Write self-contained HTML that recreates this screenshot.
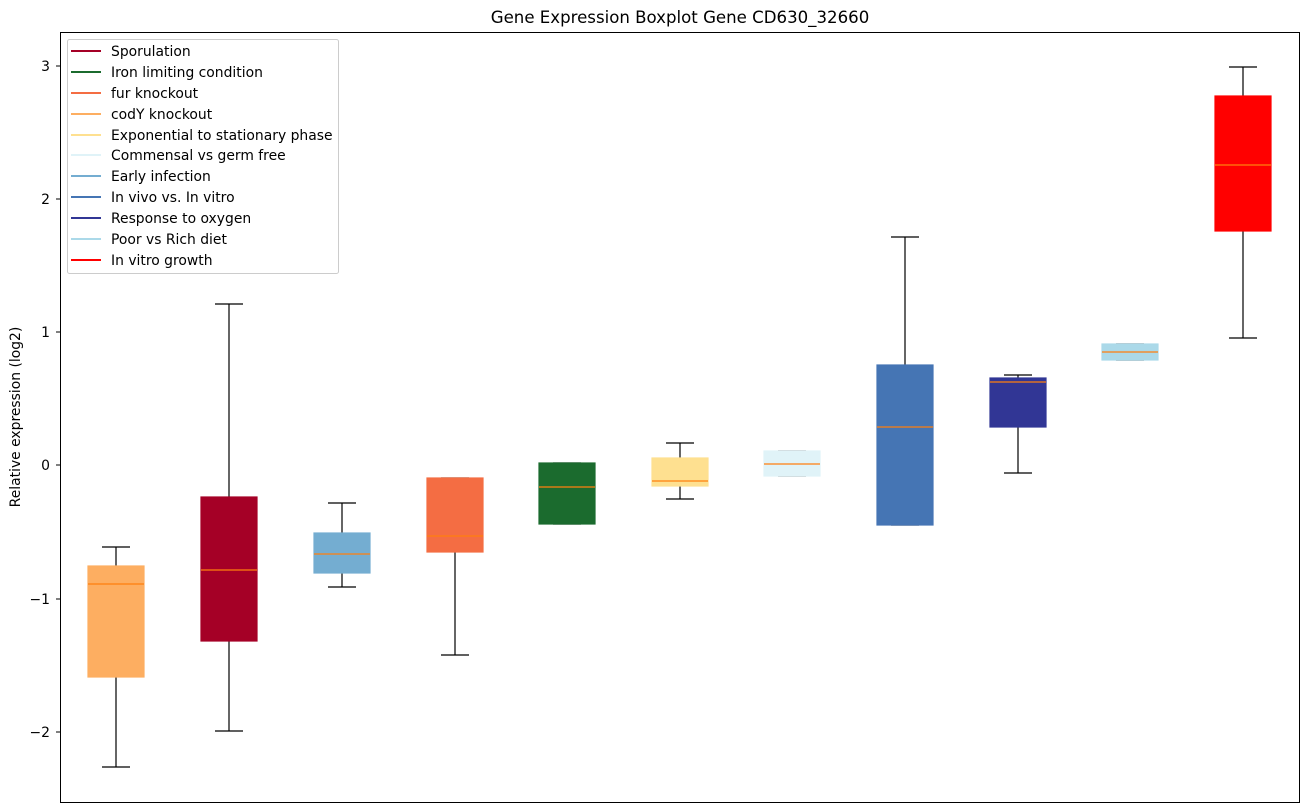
<!DOCTYPE html>
<html><head><meta charset="utf-8"><style>body{margin:0;background:#fff}svg{display:block}text{font-family:"DejaVu Sans","Liberation Sans",sans-serif;fill:#000}</style></head><body>
<svg width="1309" height="812" xmlns="http://www.w3.org/2000/svg">
<text x="680" y="23" font-size="16.6" text-anchor="middle">Gene Expression Boxplot Gene CD630_32660</text>
<rect x="60.5" y="32.5" width="1239" height="770" fill="none" stroke="#000"/>
<g font-size="13.9" text-anchor="end">
<line x1="56" x2="60" y1="66" y2="66" stroke="#000"/><text x="50" y="71">3</text>
<line x1="56" x2="60" y1="199" y2="199" stroke="#000"/><text x="50" y="204">2</text>
<line x1="56" x2="60" y1="332" y2="332" stroke="#000"/><text x="50" y="337">1</text>
<line x1="56" x2="60" y1="465" y2="465" stroke="#000"/><text x="50" y="470">0</text>
<line x1="56" x2="60" y1="599" y2="599" stroke="#000"/><text x="50" y="604">−1</text>
<line x1="56" x2="60" y1="732" y2="732" stroke="#000"/><text x="50" y="737">−2</text>
</g>
<text transform="translate(20,417) rotate(-90)" font-size="13.9" text-anchor="middle">Relative expression (log2)</text>
<g stroke="#000" stroke-width="1.2">
<line x1="116" x2="116" y1="547" y2="767"/><line x1="102" x2="130" y1="547" y2="547"/><line x1="102" x2="130" y1="767" y2="767"/>
<rect x="88" y="566" width="56" height="111" fill="#fdae61" stroke="#fdae61"/>
<line x1="229" x2="229" y1="304" y2="731"/><line x1="215" x2="243" y1="304" y2="304"/><line x1="215" x2="243" y1="731" y2="731"/>
<rect x="201" y="497" width="56" height="144" fill="#a50026" stroke="#a50026"/>
<line x1="342" x2="342" y1="503" y2="587"/><line x1="328" x2="356" y1="503" y2="503"/><line x1="328" x2="356" y1="587" y2="587"/>
<rect x="314" y="533" width="56" height="40" fill="#74add1" stroke="#74add1"/>
<line x1="455" x2="455" y1="478" y2="655"/><line x1="441" x2="469" y1="478" y2="478"/><line x1="441" x2="469" y1="655" y2="655"/>
<rect x="427" y="478" width="56" height="74" fill="#f46d43" stroke="#f46d43"/>
<line x1="553" x2="581" y1="463" y2="463"/><line x1="553" x2="581" y1="524" y2="524"/>
<rect x="539" y="463" width="56" height="61" fill="#1b6b2e" stroke="#1b6b2e"/>
<line x1="680" x2="680" y1="443" y2="499"/><line x1="666" x2="694" y1="443" y2="443"/><line x1="666" x2="694" y1="499" y2="499"/>
<rect x="652" y="458" width="56" height="28" fill="#fee090" stroke="#fee090"/>
<line x1="778" x2="806" y1="451" y2="451"/><line x1="778" x2="806" y1="476" y2="476"/>
<rect x="764" y="451" width="56" height="25" fill="#e0f3f8" stroke="#e0f3f8"/>
<line x1="905" x2="905" y1="237" y2="525"/><line x1="891" x2="919" y1="237" y2="237"/><line x1="891" x2="919" y1="525" y2="525"/>
<rect x="877" y="365" width="56" height="160" fill="#4575b4" stroke="#4575b4"/>
<line x1="1018" x2="1018" y1="375" y2="473"/><line x1="1004" x2="1032" y1="375" y2="375"/><line x1="1004" x2="1032" y1="473" y2="473"/>
<rect x="990" y="378" width="56" height="49" fill="#313695" stroke="#313695"/>
<line x1="1116" x2="1144" y1="344" y2="344"/><line x1="1116" x2="1144" y1="360" y2="360"/>
<rect x="1102" y="344" width="56" height="16" fill="#abd9e9" stroke="#abd9e9"/>
<line x1="1243" x2="1243" y1="67" y2="338"/><line x1="1229" x2="1257" y1="67" y2="67"/><line x1="1229" x2="1257" y1="338" y2="338"/>
<rect x="1215" y="96" width="56" height="135" fill="#ff0000" stroke="#ff0000"/>
</g>
<g stroke="#ff7f0e" stroke-width="1.2">
<line x1="88" x2="144" y1="584" y2="584"/><line x1="201" x2="257" y1="570" y2="570"/><line x1="314" x2="370" y1="554" y2="554"/>
<line x1="427" x2="483" y1="536" y2="536"/><line x1="539" x2="595" y1="487" y2="487"/><line x1="652" x2="708" y1="481" y2="481"/>
<line x1="764" x2="820" y1="464" y2="464"/><line x1="877" x2="933" y1="427" y2="427"/><line x1="990" x2="1046" y1="382" y2="382"/>
<line x1="1102" x2="1158" y1="352" y2="352"/><line x1="1215" x2="1271" y1="165" y2="165"/>
</g>
<rect x="67.5" y="39.5" width="271" height="234" rx="2" fill="#fff" fill-opacity="0.85" stroke="#ccc"/>
<g stroke-width="2">
<line x1="71" x2="101" y1="51" y2="51" stroke="#a50026"/>
<line x1="71" x2="101" y1="72" y2="72" stroke="#1b6b2e"/>
<line x1="71" x2="101" y1="93" y2="93" stroke="#f46d43"/>
<line x1="71" x2="101" y1="114" y2="114" stroke="#fdae61"/>
<line x1="71" x2="101" y1="135" y2="135" stroke="#fee090"/>
<line x1="71" x2="101" y1="155" y2="155" stroke="#e0f3f8"/>
<line x1="71" x2="101" y1="176" y2="176" stroke="#74add1"/>
<line x1="71" x2="101" y1="197" y2="197" stroke="#4575b4"/>
<line x1="71" x2="101" y1="218" y2="218" stroke="#313695"/>
<line x1="71" x2="101" y1="239" y2="239" stroke="#abd9e9"/>
<line x1="71" x2="101" y1="260" y2="260" stroke="#ff0000"/>
</g>
<g font-size="13.9">
<text x="111" y="56">Sporulation</text><text x="111" y="77">Iron limiting condition</text><text x="111" y="98">fur knockout</text>
<text x="111" y="119">codY knockout</text><text x="111" y="140">Exponential to stationary phase</text><text x="111" y="160">Commensal vs germ free</text>
<text x="111" y="181">Early infection</text><text x="111" y="202">In vivo vs. In vitro</text><text x="111" y="223">Response to oxygen</text>
<text x="111" y="244">Poor vs Rich diet</text><text x="111" y="265">In vitro growth</text>
</g>
</svg>
</body></html>
